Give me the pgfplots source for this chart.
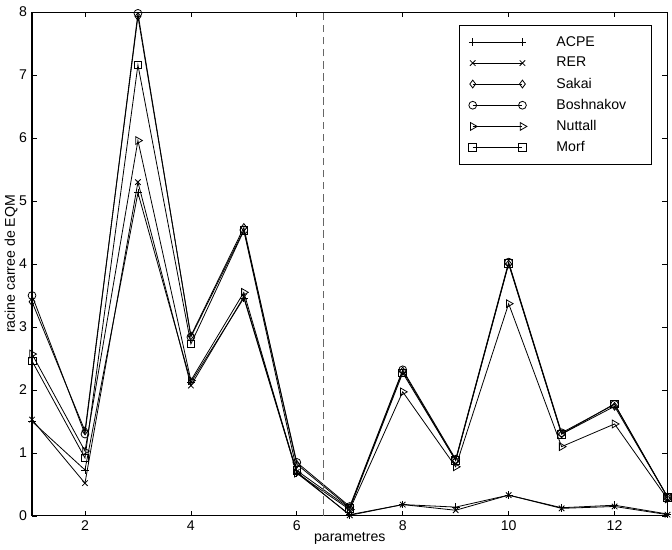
\documentclass[border=0pt]{standalone}
\usepackage{fontspec}
\setmainfont{Liberation Sans}
\usepackage{pgfplots}
\pgfplotsset{compat=1.18}
\usepackage{pgfplotstable}
\pgfplotstableread{
x ACPE RER Sakai Bosh Nuttall Morf
1 1.50 1.53 3.40 3.50 2.57 2.46
2 0.73 0.52 1.35 1.30 1.03 0.92
3 5.13 5.30 7.93 7.98 5.96 7.16
4 2.12 2.07 2.86 2.84 2.15 2.73
5 3.46 3.48 4.58 4.54 3.55 4.53
6 0.68 0.70 0.82 0.85 0.68 0.72
7 0.02 0.01 0.13 0.15 0.10 0.12
8 0.18 0.18 2.30 2.32 1.97 2.27
9 0.14 0.09 0.88 0.90 0.78 0.88
10 0.33 0.33 4.00 4.03 3.37 4.01
11 0.13 0.12 1.30 1.32 1.10 1.30
12 0.17 0.15 1.74 1.77 1.46 1.78
13 0.03 0.02 0.30 0.30 0.27 0.30
}\data
\begin{document}
\fontsize{10.5}{12}\selectfont
\begin{tikzpicture}
\begin{axis}[
  scale only axis,
  width=473pt, height=375pt,
  xmin=1, xmax=13, ymin=0, ymax=8,
  xtick={2,4,6,8,10,12},
  ytick={0,1,2,3,4,5,6,7,8},
  tick align=inside,
  major tick length=4pt,
  tick style={black, line width=0.5pt},
  axis line style={line width=0.8pt},
  /pgf/number format/assume math mode=true,
  ticklabel style={font=\fontsize{10.5}{12}\selectfont},
  label style={font=\fontsize{10.5}{12}\selectfont},
  xlabel={parametres},
  ylabel={racine carree de EQM},
  xlabel style={yshift=6pt},
  ylabel style={yshift=-6pt},
  every axis plot/.append style={black, line width=0.6pt, mark size=2.9pt, mark options={solid, fill=none}},
  legend image code/.code={\draw[#1] plot coordinates {(0cm,0cm) (1.3cm,0cm)};},
  legend style={at={(0.976,0.974)}, anchor=north east, draw=black, line width=0.6pt,
    font=\fontsize{10.5}{12}\selectfont, row sep=2.6pt, inner xsep=7pt, inner ysep=6pt,
    /tikz/every odd column/.append style={column sep=20pt},
    nodes={text width=62pt, align=left}},
  legend cell align=left,
]
\addplot[mark=+] table[x=x,y=ACPE] {\data};
\addplot[mark=x] table[x=x,y=RER] {\data};
\addplot[mark=diamond] table[x=x,y=Sakai] {\data};
\addplot[mark=o] table[x=x,y=Bosh] {\data};
\addplot[mark=triangle, mark options={rotate=-90, solid, fill=none, scale=1.15}] table[x=x,y=Nuttall] {\data};
\addplot[mark=square] table[x=x,y=Morf] {\data};
\legend{ACPE,RER,Sakai,Boshnakov,Nuttall,Morf}
\addplot[black!60, line width=0.8pt, dash pattern=on 5.5pt off 3.5pt, forget plot, mark=none] coordinates {(6.5,0) (6.5,8)};
\end{axis}
\path ([yshift=9pt]current axis.north);
\end{tikzpicture}
\end{document}
